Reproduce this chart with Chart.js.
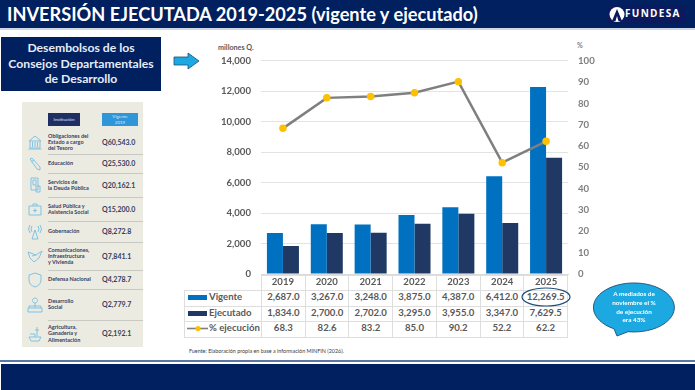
<!DOCTYPE html>
<html>
<head>
<meta charset="utf-8">
<script src="https://cdn.jsdelivr.net/npm/chart.js@4"></script>
<style>
html, body { margin: 0; padding: 0; background: #fff; }
body { width: 695px; height: 390px; position: relative; overflow: hidden; font-family: Lato, sans-serif; }
.abs { position: absolute; }
#top { left: 0; top: 0; width: 695px; height: 28px; background: #002060; border-bottom: 2px solid #cfd6e4; box-sizing: content-box; }
#title { left: 7px; top: 2px; color: #fff; font: bold 18.2px/25px Lato, sans-serif; white-space: nowrap; }
#logo { left: 608px; top: 5px; width: 77px; height: 19px; background: #0a1a5c; }
#logotext { left: 625px; top: 6px; color: #fff; font: bold 10px/14px "Open Sans", sans-serif; letter-spacing: 1.3px; }
#box { left: 1px; top: 37px; width: 160px; height: 54px; background: #002060; color: #e8ecf4; font: bold 12.2px/15.5px Lato, sans-serif; text-align: center; padding-top: 3px; box-sizing: border-box; }
#bottom { left: 1px; top: 364px; width: 694px; height: 26px; background: #002060; }
#bottomline { left: 0; top: 360px; width: 695px; height: 2px; background: #5b75a5; }
#panel { left: 22px; top: 102px; width: 121px; height: 245px; background: #ecebe1; }
.rowname { position: absolute; left: 48px; width: 50px; color: #34405f; font: bold 5.5px/6.3px Lato, sans-serif; }
.rowval { position: absolute; left: 102px; color: #34405f; font: bold 7px/9px Lato, sans-serif; white-space: nowrap; }
.rowline { position: absolute; left: 48px; width: 95px; height: 1px; background: #c9c9c4; }
.hd { position: absolute; top: 113px; height: 13px; color: #dfe6f2; font: 4.5px/13px Lato, sans-serif; text-align: center; }
#unit1 { left: 218px; top: 43px; color: #595959; font: bold 7.2px/9px Lato, sans-serif; }
#unit2 { left: 577px; top: 41px; color: #7f7f7f; font: bold 7px/9px Lato, sans-serif; }
#chartwrap { left: 200px; top: 45px; width: 410px; height: 247px; }
#tbl { left: 184px; top: 275px; border-collapse: collapse; table-layout: fixed; width: 384px; }
#tbl td { border: 1px solid #dedede; height: 15px; padding: 0 0 3px 0; box-sizing: border-box; color: #595959; font: bold 9.6px/11px Lato, sans-serif; text-align: center; }
#tbl tr { height: 15.5px; }
#tbl td.k { width: 77px; text-align: left; white-space: nowrap; }
#tbl td.e { border-top: 0; border-left: 0; }
.sw { display: inline-block; width: 19px; height: 5px; margin: 0 2px 0 3px; vertical-align: middle; }
#src { left: 189px; top: 347px; color: #404040; font: 5.4px/8px Lato, sans-serif; white-space: nowrap; }
#calltext { left: 594px; top: 290px; width: 80px; text-align: center; color: #fff; font: bold 6.4px/8.8px Lato, sans-serif; }
</style>
</head>
<body>
<div class="abs" id="top"></div>
<div class="abs" id="title">INVERSIÓN EJECUTADA 2019-2025 (vigente y ejecutado)</div>
<div class="abs" id="logo"></div>
<svg class="abs" style="left:609px;top:6px" width="16" height="17"><circle cx="8" cy="8.5" r="7.5" fill="#fff"/><path d="M8 3 L13 15 L9.5 15 L8 10 L6.5 15 L3 15 Z" fill="#0a1a5c"/></svg>
<div class="abs" id="logotext">FUNDESA</div>

<div class="abs" id="box">Desembolsos de los<br>Consejos Departamentales<br>de Desarrollo</div>
<svg class="abs" style="left:173px;top:52px" width="28" height="19"><path d="M1 5 H15 V1 L26 9 L15 17 V13 H1 Z" fill="#1ca9e1" stroke="#1f4e79" stroke-width="0.8"/></svg>

<div class="abs" id="panel"></div>
<div id="rows"></div>

<div class="abs" id="unit1">millones Q.</div>
<div class="abs" id="unit2">%</div>

<table class="abs" id="tbl"></table>
<div class="abs" id="chartwrap"><canvas id="inversionChart" width="410" height="247"></canvas></div>

<svg class="abs" style="left:520px;top:286px" width="52" height="22"><ellipse cx="26" cy="11" rx="24" ry="9" fill="none" stroke="#1f4e79" stroke-width="1.2"/></svg>
<svg class="abs" style="left:590px;top:280px" width="90" height="62"><path d="M24 48.8 A40.5 24.5 0 1 1 38 51.7 L27 56 Z" fill="#1ca9e1" stroke="#1f4e79" stroke-width="0.9"/></svg>
<div class="abs" id="calltext">A mediados de<br>noviembre el %<br>de ejecución<br>era 43%</div>

<div class="abs" id="src">Fuente: Elaboración propia en base a información MINFIN (2026).</div>
<div class="abs" id="bottomline"></div>
<div class="abs" id="bottom"></div>

<script>
// Data
var years = ['2019', '2020', '2021', '2022', '2023', '2024', '2025'];
var vigente = [2687.0, 3267.0, 3248.0, 3875.0, 4387.0, 6412.0, 12269.5];
var ejecutado = [1834.0, 2700.0, 2702.0, 3295.0, 3955.0, 3347.0, 7629.5];
var ejecucion = [68.3, 82.6, 83.2, 85.0, 90.2, 52.2, 62.2];

// Left panel: institutions and their budget
var instituciones = [
    'Obligaciones del<br>Estado a cargo<br>del Tesoro', 'Educación', 'Servicios de<br>la Deuda Pública',
    'Salud Pública y<br>Asistencia Social', 'Gobernación', 'Comunicaciones,<br>Infraestructura<br>y Vivienda',
    'Defensa Nacional', 'Desarrollo<br>Social', 'Agricultura,<br>Ganadería y<br>Alimentación'
];
var vigente2019 = ['Q60,543.0', 'Q25,530.0', 'Q20,162.1', 'Q15,200.0', 'Q8,272.8', 'Q7,841.1', 'Q4,278.7', 'Q2,779.7', 'Q2,192.1'];
var rowTops = [130, 154, 173, 197, 221, 242, 270, 289, 320];
var rowBottoms = [154, 173, 197, 221, 242, 270, 289, 320, 347];

// Rough outline icons for the left panel
var iconos = [
    '<path d="M2 7 L8 2 L14 7 Z M3 7 V14 H13 V7 M5.5 8 V13 M8 8 V13 M10.5 8 V13 M1.5 15 H14.5"/>',
    '<path d="M3 3 L5 2 L13 11 L13 14 L10 13 Z M4 6 L7 4"/>',
    '<path d="M4 1 H11 V13 H4 Z M6 3 H9 V8 H6 Z M9 9 H13 V15 H9 Z"/>',
    '<path d="M2 5 H14 V14 H2 Z M6 5 V3 H10 V5 M8 7.5 V11.5 M6 9.5 H10"/>',
    '<path d="M8 6 L5 15 H11 Z M5 2 Q3 5 5 8 M11 2 Q13 5 11 8 M3 1 Q0 5 3 9 M13 1 Q16 5 13 9"/>',
    '<path d="M1 4 L9 7 L15 3 L12 10 L7 14 L3 10 Z M5 8 L9 7"/>',
    '<path d="M8 1 L14 3 V8 Q14 13 8 15 Q2 13 2 8 V3 Z"/>',
    '<path d="M8 1 A2.5 2.5 0 1 1 7.9 1 M8 6 V9 M2 9 H14 M2 9 V11 M8 9 V11 M14 9 V11 M1 11 H15 V15 H1 Z"/>',
    '<path d="M10 1 V10 M8 4 H12 M2 11 H14 L12 15 H4 Z M3 8 H8 V11"/>'
];

// Build the left panel
var rowsHtml = '<div class="hd" style="left:48px;width:32px;background:#1f2f66">Institución</div>' +
    '<div class="hd" style="left:102px;width:36px;background:#2f97d9;line-height:6px;padding-top:1px;height:12px">Vigente<br>2019</div>';
for (var i = 0; i < instituciones.length; i++) {
    var lines = instituciones[i].split('<br>').length;
    var mid = (rowTops[i] + rowBottoms[i]) / 2;
    rowsHtml += '<div class="rowname" style="top:' + (mid - lines * 3.15) + 'px">' + instituciones[i] + '</div>';
    rowsHtml += '<div class="rowval" style="top:' + (mid - 4.5) + 'px">' + vigente2019[i] + '</div>';
    rowsHtml += '<svg class="abs" style="left:27px;top:' + (mid - 8) + 'px" width="16" height="16" fill="none" stroke="#7fc3e6" stroke-width="1">' + iconos[i] + '</svg>';
    if (i < instituciones.length - 1) {
        rowsHtml += '<div class="rowline" style="top:' + rowBottoms[i] + 'px"></div>';
    }
}
document.getElementById('rows').innerHTML = rowsHtml;

// Build the data table under the chart (years come from the chart axis)
function tableRow(label, swatch, values) {
    var html = '<tr><td class="k">' + swatch + label + '</td>';
    for (var i = 0; i < values.length; i++) {
        html += '<td>' + values[i].toLocaleString('en-US', { minimumFractionDigits: 1, maximumFractionDigits: 1 }) + '</td>';
    }
    return html + '</tr>';
}
var headerCells = '<tr style="height:14px"><td class="k e"></td>';
for (var j = 0; j < years.length; j++) {
    headerCells += '<td></td>';
}
var lineSwatch = '<svg width="21" height="7" style="margin:0 1px 0 2px;vertical-align:middle"><path d="M0 3.5 H21" stroke="#7f7f7f" stroke-width="1.6"/><circle cx="11" cy="3.5" r="2.6" fill="#ffc000"/></svg>';
document.getElementById('tbl').innerHTML = headerCells + '</tr>' +
    tableRow('Vigente', '<span class="sw" style="background:#0070c0"></span>', vigente) +
    tableRow('Ejecutado', '<span class="sw" style="background:#1f3864"></span>', ejecutado) +
    tableRow('% ejecución', lineSwatch, ejecucion);

// Create the combined chart
var ctx = document.getElementById('inversionChart').getContext('2d');
var chart = new Chart(ctx, {
    type: 'bar',
    data: {
        labels: years,
        datasets: [
            {
                type: 'line',
                label: '% ejecución',
                data: ejecucion,
                yAxisID: 'y1',
                borderColor: '#7f7f7f',
                borderWidth: 2.5,
                backgroundColor: '#ffc000',
                pointBackgroundColor: '#ffc000',
                pointBorderColor: '#ffc000',
                pointRadius: 2.5,
                tension: 0,
                order: 0
            },
            {
                label: 'Vigente',
                data: vigente,
                backgroundColor: '#0070c0',
                order: 1
            },
            {
                label: 'Ejecutado',
                data: ejecutado,
                backgroundColor: '#1f3864',
                order: 1
            }
        ]
    },
    options: {
        responsive: false,
        animation: false,
        layout: { padding: { top: 4, bottom: 0, left: 0, right: 0 } },
        datasets: { bar: { barPercentage: 1, categoryPercentage: 0.73 } },
        plugins: { legend: { display: false }, tooltip: { enabled: false } },
        scales: {
            x: {
                grid: { display: false, drawTicks: false },
                border: { color: '#d9d9d9' },
                ticks: { color: '#595959', padding: 2, font: { family: 'Lato', size: 9.6, weight: 'bold' } },
                afterFit: function (scale) { scale.height = 18; }
            },
            y: {
                min: 0,
                max: 14000,
                ticks: { stepSize: 2000, color: '#595959', padding: 10, font: { family: 'Lato', size: 9.6, weight: 'bold' } },
                grid: { color: '#e3e3e3', drawTicks: false },
                border: { display: false },
                afterFit: function (scale) { scale.width = 61; }
            },
            y1: {
                position: 'right',
                min: 0,
                max: 100,
                ticks: { stepSize: 10, color: '#7f7f7f', padding: 10, font: { family: 'Lato', size: 9.6, weight: 'bold' } },
                grid: { display: false, drawTicks: false },
                border: { display: false },
                afterFit: function (scale) { scale.width = 42; }
            }
        }
    }
});
</script>
</body>
</html>
